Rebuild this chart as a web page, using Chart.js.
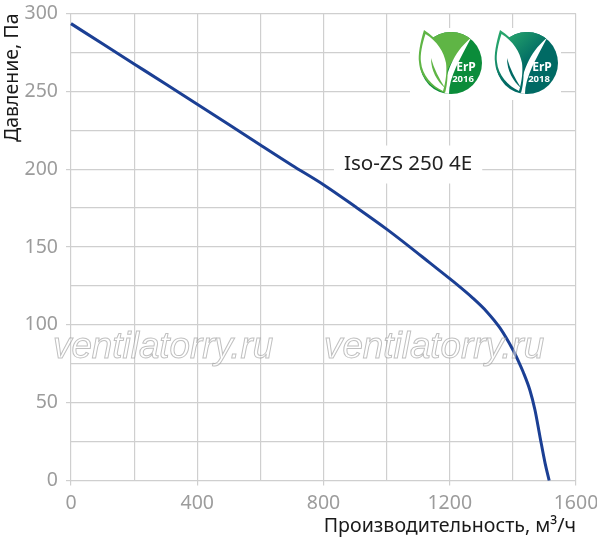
<!DOCTYPE html>
<html>
<head>
<meta charset="utf-8">
<style>
	html, body { margin: 0; padding: 0; background: #fff; }
	canvas { display: block; }
</style>
<script src="https://cdn.jsdelivr.net/npm/chart.js@4"></script>
</head>
<body>
<canvas id="fan" width="597" height="537"></canvas>
<script>
const flow = [0, 100, 200, 300, 400, 500, 600, 700, 800, 900, 1000, 1070, 1137, 1201, 1274, 1318, 1359, 1400, 1416, 1432, 1454, 1470, 1486, 1502, 1515];
const pressure = [293.5, 280.5, 267.6, 254.7, 241.7, 228.7, 215.5, 202.5, 190, 176, 161.5, 150.6, 139.8, 129.5, 117, 108.3, 98, 84, 77.4, 70, 58, 45.3, 28, 11.2, 0];
const xLabels = [0, 400, 800, 1200, 1600];
const yLabels = [0, 50, 100, 150, 200, 250, 300];
const modelName = 'Iso-ZS 250 4E';
const watermark = 'ventilatorry.ru';

const GRID = '#cfcfcf';
const TICK_TEXT = '#9c9c9c';

function drawLogo(ctx, cx, cy, dark, light, year) {
	ctx.save();
	ctx.translate(cx, cy);

	const grad = ctx.createLinearGradient(-20, -30, 25, 20);
	grad.addColorStop(0, light);
	grad.addColorStop(0.55, dark);
	grad.addColorStop(1, dark);
	const soft = year === '2016' ? light : grad;

	// circle
	ctx.save();
	ctx.beginPath();
	ctx.arc(0, 0, 31, 0, Math.PI * 2);
	ctx.clip();
	ctx.fillStyle = dark;
	ctx.fillRect(-40, -40, 80, 80);
	// top part above the swoosh
	ctx.fillStyle = soft;
	ctx.beginPath();
	ctx.moveTo(-25, -40);
	ctx.lineTo(25, -40);
	ctx.lineTo(19, -23);
	ctx.quadraticCurveTo(3, -8, -4, 8);
	ctx.lineTo(-25, 8);
	ctx.closePath();
	ctx.fill();
	// white swoosh
	ctx.fillStyle = '#fff';
	ctx.beginPath();
	ctx.moveTo(20, -25);
	ctx.bezierCurveTo(6, -14, -6, 6, -7, 33);
	ctx.lineTo(-2, 33);
	ctx.bezierCurveTo(-3, 16, 9, -4, 20, -25);
	ctx.closePath();
	ctx.fill();
	ctx.restore();

	// leaf outline
	ctx.fillStyle = soft;
	ctx.beginPath();
	ctx.moveTo(-27, -33);
	ctx.bezierCurveTo(-31, -20, -33, -8, -32, -1);
	ctx.bezierCurveTo(-31, 14, -20, 25, -6, 30);
	ctx.bezierCurveTo(-3, 20, -3, 8, -4, 0);
	ctx.bezierCurveTo(-5, -12, -13, -24, -27, -33);
	ctx.closePath();
	ctx.fill();

	// leaf inside
	ctx.fillStyle = '#fff';
	ctx.beginPath();
	ctx.moveTo(-25.5, -29);
	ctx.bezierCurveTo(-29, -18, -31, -8, -30, -1);
	ctx.bezierCurveTo(-29, 12, -19, 23, -8, 28);
	ctx.bezierCurveTo(-5, 18, -4, 8, -5, 0);
	ctx.bezierCurveTo(-7, -11, -14, -22, -25.5, -29);
	ctx.closePath();
	ctx.fill();

	// vein
	ctx.fillStyle = year === '2016' ? light : dark;
	ctx.beginPath();
	ctx.moveTo(-20, -5);
	ctx.bezierCurveTo(-20, 8, -14, 18, -6, 25);
	ctx.bezierCurveTo(-12, 15, -17, 6, -20, -5);
	ctx.closePath();
	ctx.fill();

	ctx.fillStyle = '#fff';
	ctx.textAlign = 'center';
	ctx.textBaseline = 'middle';
	ctx.font = 'bold 12px "Noto Sans"';
	ctx.fillText('ErP', 15, 5);
	ctx.font = 'bold 9.5px "Noto Sans"';
	ctx.fillText(year, 12, 16);
	ctx.restore();
}

const overlay = {
	id: 'overlay',
	// white patches cut the grid under the logos and the model name
	beforeDatasetsDraw(chart) {
		const ctx = chart.ctx;
		const x = chart.scales.x;
		const y = chart.scales.y;
		ctx.save();
		ctx.fillStyle = '#fff';
		ctx.fillRect(410, 28, 151, 72);
		ctx.font = '20.6px "Noto Sans"';
		const w = ctx.measureText(modelName).width;
		ctx.fillRect(x.getPixelForValue(1068) - w / 2 - 10, y.getPixelForValue(203) - 19, w + 20, 38);
		ctx.fillStyle = '#222';
		ctx.textAlign = 'center';
		ctx.textBaseline = 'middle';
		ctx.fillText(modelName, x.getPixelForValue(1068), y.getPixelForValue(203));
		ctx.restore();
	},
	afterDatasetsDraw(chart) {
		const ctx = chart.ctx;
		drawLogo(ctx, 451, 63, '#0b8c3a', '#5fb545', '2016');
		drawLogo(ctx, 527, 63, '#006a64', '#27a56c', '2018');

		ctx.save();
		ctx.font = 'italic 36.8px "Liberation Sans"';
		ctx.textBaseline = 'alphabetic';
		ctx.lineWidth = 1;
		ctx.fillStyle = 'rgba(255,255,255,0.5)';
		ctx.strokeStyle = 'rgba(140,140,140,0.55)';
		[53, 324].forEach(function(px) {
			ctx.fillText(watermark, px, 358);
			ctx.strokeText(watermark, px, 358);
		});
		ctx.restore();
	}
};

const fan = new Chart(document.getElementById('fan'), {
	type: 'scatter',
	data: {
		datasets: [{
			data: flow.map(function(v, i) { return { x: v, y: pressure[i] }; }),
			showLine: true,
			borderColor: '#1b3f94',
			borderWidth: 3,
			pointRadius: 0,
			cubicInterpolationMode: 'monotone',
			clip: false
		}]
	},
	plugins: [overlay],
	options: {
		responsive: false,
		animation: false,
		layout: { padding: { top: 13.5, right: 21 } },
		plugins: {
			legend: { display: false },
			tooltip: { enabled: false }
		},
		scales: {
			x: {
				type: 'linear',
				min: 0,
				max: 1600,
				afterFit: function(scale) {
					scale.height = 56.5;
					scale.paddingLeft = 0;
					scale.paddingRight = 0;
				},
				ticks: {
					stepSize: 200,
					autoSkip: false,
					maxRotation: 0,
					padding: 6,
					color: TICK_TEXT,
					font: { family: 'Noto Sans', size: 19.5 },
					callback: function(v) { return xLabels.includes(v) ? v : ''; }
				},
				grid: {
					color: GRID,
					lineWidth: 1.2,
					tickLength: 5,
					tickColor: function(c) { return xLabels.includes(c.tick.value) ? GRID : 'rgba(0,0,0,0)'; }
				},
				border: { display: false },
				title: {
					display: true,
					text: 'Производительность, м³/ч',
					align: 'end',
					color: '#1a1a1a',
					font: { family: 'Noto Sans', size: 19.6 },
					padding: { top: 0, bottom: -1 }
				}
			},
			y: {
				type: 'linear',
				min: 0,
				max: 300,
				afterFit: function(scale) {
					scale.width = 71;
					scale.paddingTop = 0;
					scale.paddingBottom = 0;
				},
				ticks: {
					stepSize: 25,
					autoSkip: false,
					padding: 8,
					color: TICK_TEXT,
					font: { family: 'Noto Sans', size: 19.5 },
					callback: function(v) { return yLabels.includes(v) ? v : ''; }
				},
				grid: {
					color: GRID,
					lineWidth: 1.2,
					tickLength: 5,
					tickColor: function(c) { return yLabels.includes(c.tick.value) ? GRID : 'rgba(0,0,0,0)'; }
				},
				border: { display: false },
				title: {
					display: true,
					text: 'Давление, Па',
					align: 'end',
					color: '#1a1a1a',
					font: { family: 'Noto Sans', size: 19.5 },
					padding: { top: 1, bottom: 0 }
				}
			}
		}
	}
});
</script>
</body>
</html>
